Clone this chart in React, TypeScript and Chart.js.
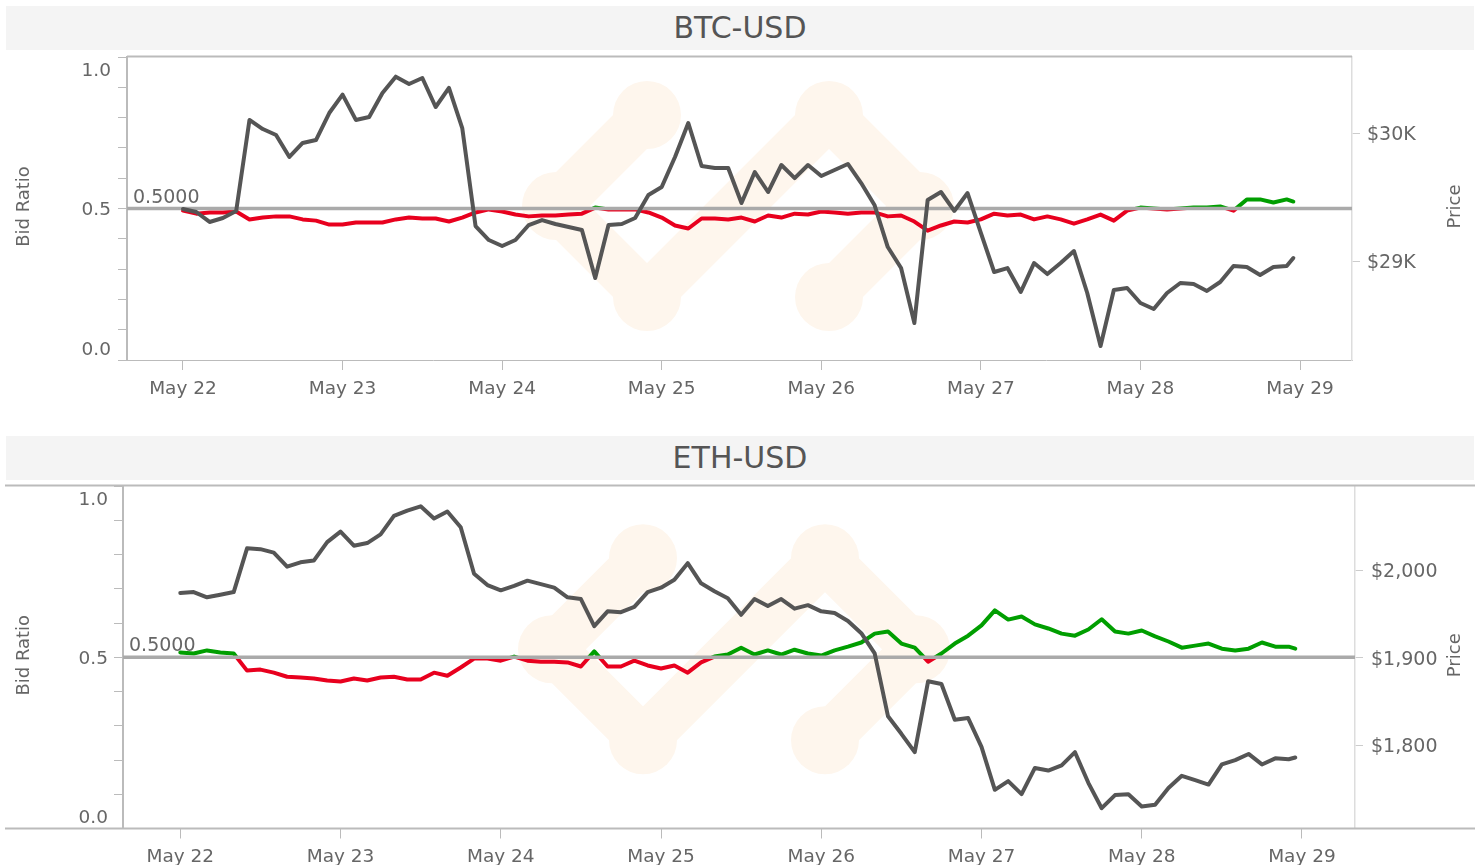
import { useEffect, useRef } from 'react';
import { Chart, registerables } from 'chart.js';

Chart.register(...registerables);

const FONT = '"DejaVu Sans", sans-serif';
Chart.defaults.font.family = FONT;

// ---- data ----
const hours = [
  0, 2, 4, 6, 8, 10, 12, 14, 16, 18, 20, 22,
  24, 26, 28, 30, 32, 34, 36, 38, 40, 42, 44, 46,
  48, 50, 52, 54, 56, 58, 60, 62, 64, 66, 68, 70,
  72, 74, 76, 78, 80, 82, 84, 86, 88, 90, 92, 94,
  96, 98, 100, 102, 104, 106, 108, 110, 112, 114, 116, 118,
  120, 122, 124, 126, 128, 130, 132, 134, 136, 138, 140, 142,
  144, 146, 148, 150, 152, 154, 156, 158, 160, 162, 164, 166,
  167,
];

const dayTicks = [0, 24, 48, 72, 96, 120, 144, 168];
const dayLabels = ['May 22', 'May 23', 'May 24', 'May 25', 'May 26', 'May 27', 'May 28', 'May 29'];

const ratioTicks = [0, 0.1, 0.2, 0.3, 0.4, 0.5, 0.6, 0.7, 0.8, 0.9, 1.0];
const ratioLabels = [1.0, 0.5, 0.0];

const btcPriceTicks = [29000, 30000];
const ethPriceTicks = [1800, 1900, 2000];

const btcPrice = [
  29406, 29383, 29305, 29336, 29391, 30102, 30031, 29984, 29813, 29922, 29945, 30156,
  30300, 30102, 30125, 30313, 30440, 30383, 30430, 30203, 30352, 30039, 29273, 29164,
  29117, 29164, 29281, 29320, 29289, 29266, 29242, 28867, 29281, 29289, 29336, 29516,
  29578, 29813, 30078, 29742, 29727, 29727, 29453, 29695, 29539, 29750, 29648, 29750,
  29664, 29711, 29758, 29609, 29438, 29109, 28945, 28516, 29477, 29539, 29391, 29531,
  29219, 28914, 28945, 28758, 28984, 28898, 28984, 29078, 28750, 28336, 28773, 28789,
  28672, 28625, 28750, 28828, 28820, 28766, 28836, 28961, 28953, 28891, 28953, 28961,
  29023,
];

const btcBidRatio = [
  0.493, 0.483, 0.487, 0.487, 0.490, 0.464, 0.470, 0.474, 0.474, 0.464, 0.460, 0.447,
  0.447, 0.454, 0.454, 0.454, 0.464, 0.470, 0.467, 0.467, 0.457, 0.470, 0.487, 0.497,
  0.490, 0.480, 0.474, 0.477, 0.477, 0.480, 0.483, 0.503, 0.497, 0.497, 0.497, 0.487,
  0.470, 0.444, 0.434, 0.467, 0.467, 0.464, 0.470, 0.457, 0.477, 0.470, 0.483, 0.480,
  0.490, 0.487, 0.483, 0.487, 0.487, 0.474, 0.477, 0.457, 0.427, 0.444, 0.457, 0.454,
  0.464, 0.483, 0.477, 0.480, 0.464, 0.474, 0.464, 0.450, 0.464, 0.480, 0.460, 0.493,
  0.503, 0.500, 0.497, 0.500, 0.503, 0.503, 0.507, 0.493, 0.530, 0.530, 0.520, 0.530,
  0.523,
];

const ethPrice = [
  1974, 1975, 1969, 1972, 1975, 2025, 2024, 2020, 2004, 2009, 2011, 2032,
  2044, 2028, 2031, 2041, 2062, 2068, 2073, 2059, 2067, 2049, 1996, 1983,
  1977, 1982, 1988, 1984, 1980, 1969, 1967, 1936, 1953, 1952, 1958, 1975,
  1980, 1989, 2008, 1985, 1976, 1968, 1949, 1967, 1959, 1967, 1956, 1960,
  1953, 1951, 1942, 1928, 1905, 1833, 1813, 1792, 1873, 1870, 1829, 1831,
  1798, 1749, 1759, 1744, 1774, 1771, 1777, 1792, 1757, 1728, 1743, 1744,
  1730, 1732, 1751, 1765, 1760, 1755, 1778, 1783, 1790, 1778, 1785, 1784,
  1786,
];

const ethBidRatio = [
  0.514, 0.511, 0.520, 0.514, 0.511, 0.461, 0.464, 0.455, 0.443, 0.441, 0.438, 0.432,
  0.429, 0.438, 0.432, 0.441, 0.443, 0.435, 0.435, 0.455, 0.446, 0.470, 0.496, 0.496,
  0.490, 0.502, 0.490, 0.487, 0.487, 0.485, 0.473, 0.517, 0.473, 0.473, 0.490, 0.476,
  0.467, 0.476, 0.455, 0.485, 0.502, 0.508, 0.528, 0.508, 0.520, 0.508, 0.522, 0.511,
  0.505, 0.520, 0.531, 0.543, 0.569, 0.575, 0.540, 0.528, 0.487, 0.511, 0.540, 0.563,
  0.593, 0.637, 0.610, 0.619, 0.596, 0.584, 0.569, 0.563, 0.581, 0.611, 0.575, 0.569,
  0.578, 0.561, 0.546, 0.528, 0.534, 0.540, 0.525, 0.520, 0.525, 0.543, 0.531, 0.531,
  0.525,
];

// ---- styles ----
const PRICE_COLOR = '#555555';
const RED = '#e8001e';
const GREEN = '#009e00';
const WM_COLOR = 'rgb(254,246,237)';
const TEXT = '#666666';
const AXIS = '#bbbbbb';
const LINE_W = 4;

function ratioColor(ctx: any) {
  const chart = ctx.chart;
  const a = chart.chartArea;
  if (!a) return RED;
  const y = chart.scales.y.getPixelForValue(0.5);
  const g = chart.ctx.createLinearGradient(0, a.top, 0, a.bottom);
  const t = Math.min(1, Math.max(0, (y - a.top) / (a.bottom - a.top)));
  g.addColorStop(0, GREEN);
  g.addColorStop(t, GREEN);
  g.addColorStop(t, RED);
  g.addColorStop(1, RED);
  return g;
}

const decorPlugin = {
  id: 'decor',
  beforeDatasetsDraw(chart: any, _args: any, opts: any) {
    const { ctx, chartArea: a } = chart;
    const cx = (a.left + a.right) / 2 + opts.wmDx;
    const cy = (a.top + a.bottom) / 2 + opts.wmDy;
    const s = 91;
    ctx.save();
    ctx.beginPath();
    ctx.rect(a.left, a.top, a.right - a.left, a.bottom - a.top);
    ctx.clip();
    ctx.strokeStyle = WM_COLOR;
    ctx.fillStyle = WM_COLOR;
    ctx.lineWidth = 48;
    ctx.lineCap = 'round';
    ctx.lineJoin = 'round';
    ctx.beginPath();
    ctx.moveTo(cx - s, cy - s);
    ctx.lineTo(cx - 2 * s, cy);
    ctx.lineTo(cx - s, cy + s);
    ctx.lineTo(cx + s, cy - s);
    ctx.lineTo(cx + 2 * s, cy);
    ctx.lineTo(cx + s, cy + s);
    ctx.stroke();
    const pts = [
      [cx - s, cy - s], [cx - 2 * s, cy], [cx - s, cy + s],
      [cx + s, cy - s], [cx + 2 * s, cy], [cx + s, cy + s],
    ];
    for (const [px, py] of pts) {
      ctx.beginPath();
      ctx.arc(px, py, 34, 0, Math.PI * 2);
      ctx.fill();
    }
    ctx.restore();
  },
  afterDatasetDraw(chart: any, args: any) {
    if (args.meta.yAxisID !== 'y') return;
    const { ctx, chartArea: a } = chart;
    const y = chart.scales.y.getPixelForValue(0.5);
    ctx.save();
    ctx.strokeStyle = '#aaaaaa';
    ctx.lineWidth = 3.5;
    ctx.beginPath();
    ctx.moveTo(a.left, y);
    ctx.lineTo(a.right, y);
    ctx.stroke();
    ctx.fillStyle = TEXT;
    ctx.font = `19px ${FONT}`;
    ctx.textAlign = 'left';
    ctx.textBaseline = 'alphabetic';
    ctx.fillText('0.5000', a.left + 6, y - 6);
    ctx.restore();
  },
  afterDraw(chart: any, _args: any, opts: any) {
    const { ctx, chartArea: a } = chart;
    const ys = chart.scales.y;
    ctx.save();
    // border lines
    ctx.strokeStyle = AXIS;
    ctx.lineWidth = 2;
    ctx.beginPath();
    if (opts.fullLines) {
      ctx.moveTo(5, a.top - 0.5);
      ctx.lineTo(1475, a.top - 0.5);
      ctx.moveTo(5, a.bottom);
      ctx.lineTo(1475, a.bottom);
    } else {
      ctx.moveTo(a.left, a.top - 0.5);
      ctx.lineTo(a.right, a.top - 0.5);
    }
    ctx.stroke();
    // left tick labels
    ctx.fillStyle = TEXT;
    ctx.font = `18.5px ${FONT}`;
    ctx.textAlign = 'right';
    ctx.textBaseline = 'middle';
    for (const v of ratioLabels) {
      let py = ys.getPixelForValue(v) + 2;
      if (v === 1) py += 12.5;
      if (v === 0) py -= 12;
      ctx.fillText(v.toFixed(1), a.left - opts.labelGap, py);
    }
    // axis titles
    const my = (a.top + a.bottom) / 2 - 2;
    ctx.font = `18px ${FONT}`;
    ctx.textAlign = 'center';
    ctx.textBaseline = 'middle';
    ctx.translate(24, my);
    ctx.rotate(-Math.PI / 2);
    ctx.fillText('Bid Ratio', 0, 0);
    ctx.setTransform(1, 0, 0, 1, 0, 0);
    ctx.translate(1455.5, my);
    ctx.rotate(-Math.PI / 2);
    ctx.fillText('Price', 0, 0);
    ctx.restore();
  },
};

type Panel = {
  price: number[];
  ratio: number[];
  priceMin: number;
  priceMax: number;
  priceTicks: number[];
  fmt: (v: number) => string;
  xMin: number;
  xMax: number;
  leftW: number;
  rightW: number;
  padTop: number;
  xH: number;
  wmDx: number;
  wmDy: number;
  fullLines: boolean;
  labelGap: number;
  rightPad: number;
};

function buildConfig(p: Panel): any {
  return {
    type: 'line',
    data: {
      datasets: [
        {
          label: 'Price',
          data: hours.map((h, i) => ({ x: h, y: p.price[i] })),
          yAxisID: 'y1',
          borderColor: PRICE_COLOR,
          borderWidth: LINE_W,
          pointRadius: 0,
          tension: 0,
          order: 0,
          borderJoinStyle: 'round',
          borderCapStyle: 'round',
        },
        {
          label: 'Bid Ratio',
          data: hours.map((h, i) => ({ x: h, y: p.ratio[i] })),
          yAxisID: 'y',
          borderColor: ratioColor,
          borderWidth: LINE_W,
          pointRadius: 0,
          tension: 0,
          order: 1,
          borderJoinStyle: 'round',
          borderCapStyle: 'round',
        },
      ],
    },
    options: {
      animation: false,
      responsive: false,
      devicePixelRatio: 1,
      events: [],
      layout: { padding: { top: p.padTop, left: 0, right: 0, bottom: 0 } },
      plugins: {
        legend: { display: false },
        tooltip: { enabled: false },
        title: { display: false },
        decor: { wmDx: p.wmDx, wmDy: p.wmDy, fullLines: p.fullLines, labelGap: p.labelGap },
      },
      scales: {
        x: {
          type: 'linear',
          position: 'bottom',
          min: p.xMin,
          max: p.xMax,
          afterFit: (s: any) => { s.height = p.xH; },
          afterBuildTicks: (s: any) => { s.ticks = dayTicks.map((v) => ({ value: v })); },
          ticks: {
            callback: (v: number) => {
              const i = dayTicks.indexOf(v);
              return i >= 0 ? dayLabels[i] : '';
            },
            color: TEXT,
            font: { size: 18.5, family: FONT },
            padding: 8,
            maxRotation: 0,
            autoSkip: false,
          },
          grid: { drawOnChartArea: false, drawTicks: true, tickLength: 10, color: AXIS },
          border: { display: true, color: AXIS, width: 1, dash: [3, 3] },
        },
        y: {
          type: 'linear',
          position: 'left',
          min: 0,
          max: 1,
          afterFit: (s: any) => { s.width = p.leftW; },
          afterBuildTicks: (s: any) => { s.ticks = ratioTicks.map((v) => ({ value: v })); },
          ticks: { callback: () => '', padding: 0 },
          grid: { drawOnChartArea: false, drawTicks: true, tickLength: 9, color: AXIS },
          border: { display: true, color: AXIS, width: 2 },
        },
        y1: {
          type: 'linear',
          position: 'right',
          min: p.priceMin,
          max: p.priceMax,
          afterFit: (s: any) => { s.width = p.rightW; },
          afterBuildTicks: (s: any) => { s.ticks = p.priceTicks.map((v) => ({ value: v })); },
          ticks: {
            callback: (v: number) => p.fmt(v),
            color: TEXT,
            font: { size: 19, family: FONT },
            padding: p.rightPad,
            labelOffset: 2,
          },
          grid: { drawOnChartArea: false, drawTicks: true, tickLength: 8, color: '#cccccc' },
          border: { display: true, color: '#dddddd', width: 1.5 },
        },
      },
    },
    plugins: [decorPlugin],
  };
}

const btcPanel: Panel = {
  price: btcPrice,
  ratio: btcBidRatio,
  priceMin: 28226.6,
  priceMax: 30593.75,
  priceTicks: btcPriceTicks,
  fmt: (v) => '$' + v / 1000 + 'K',
  xMin: -8.42,
  xMax: 175.82,
  leftW: 127,
  rightW: 127,
  padTop: 57,
  xH: 70,
  wmDx: -1.5,
  wmDy: -2.5,
  fullLines: false,
  labelGap: 16,
  rightPad: 7,
};

const ethPanel: Panel = {
  price: ethPrice,
  ratio: ethBidRatio,
  priceMin: 1704.8,
  priceMax: 2096.2,
  priceTicks: ethPriceTicks,
  fmt: (v) => '$' + v.toLocaleString('en-US'),
  xMin: -8.58,
  xMax: 175.94,
  leftW: 123,
  rightW: 124,
  padTop: 56,
  xH: 36.5,
  wmDx: -5,
  wmDy: -8,
  fullLines: true,
  labelGap: 15,
  rightPad: 8,
};

function ChartCanvas({ panel, top, height }: { panel: Panel; top: number; height: number }) {
  const ref = useRef<HTMLCanvasElement>(null);
  useEffect(() => {
    const chart = new Chart(ref.current as HTMLCanvasElement, buildConfig(panel));
    return () => chart.destroy();
  }, []);
  return (
    <canvas
      ref={ref}
      width={1479}
      height={height}
      style={{ position: 'absolute', left: 0, top, width: 1479, height, display: 'block' }}
    />
  );
}

function TitleBar({ text, top }: { text: string; top: number }) {
  return (
    <div
      style={{
        position: 'absolute',
        left: 6,
        top,
        width: 1468,
        height: 44,
        background: '#f4f4f4',
        color: '#555555',
        fontFamily: FONT,
        fontSize: 30,
        lineHeight: '44px',
        textAlign: 'center',
      }}
    >
      {text}
    </div>
  );
}

export default function App() {
  return (
    <div
      style={{
        position: 'absolute',
        left: 0,
        top: 0,
        width: 1479,
        height: 865,
        background: '#ffffff',
        overflow: 'hidden',
      }}
    >
      <ChartCanvas panel={btcPanel} top={0} height={430} />
      <ChartCanvas panel={ethPanel} top={430} height={435} />
      <TitleBar text="BTC-USD" top={6} />
      <TitleBar text="ETH-USD" top={436} />
    </div>
  );
}
